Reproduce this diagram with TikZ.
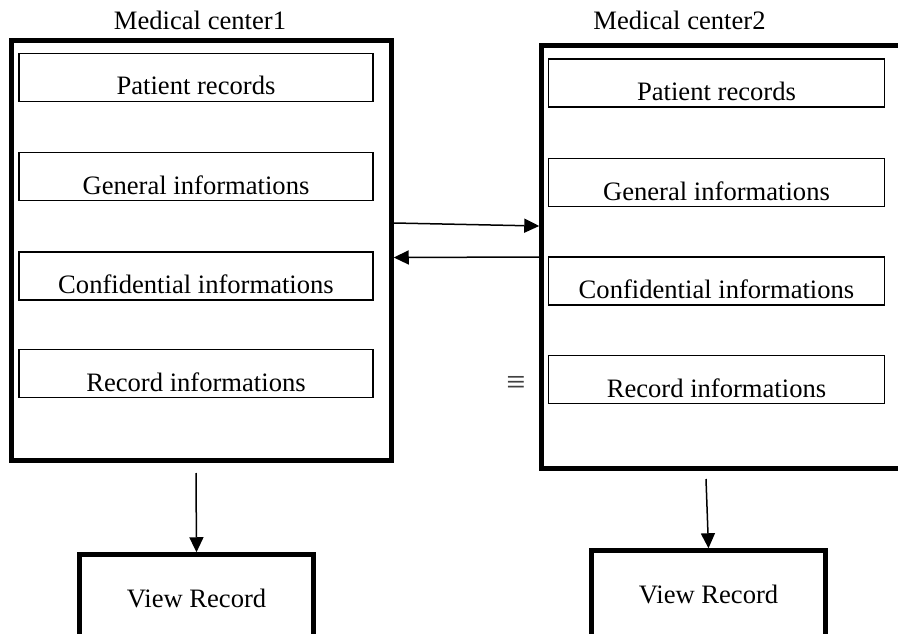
\documentclass[tikz,border=0pt]{standalone}
\usepackage{fontspec}
\setmainfont{Liberation Serif}
\usetikzlibrary{arrows.meta}
\tikzset{
  centerbox/.style={draw, line width=4.5pt, inner sep=0pt},
  fieldbox/.style={draw, line width=1.6pt, minimum height=48pt, inner sep=0pt,
                   text height=35pt, text depth=0pt},
  viewbox/.style={draw, line width=4.5pt, minimum width=234pt, minimum height=91pt,
                  inner sep=0pt, text height=15pt, text depth=0pt, anchor=north},
  caption/.style={anchor=base, inner sep=0pt},
  link/.style={line width=1.5pt, -{Triangle[length=15pt,width=14pt]}}
}
\begin{document}
\begin{tikzpicture}[x=1pt, y=-1pt, font=\fontsize{26.6pt}{30pt}\selectfont]
  \useasboundingbox (0,0) rectangle (898,634);
  \clip (0,0) rectangle (898,634);

  % titles
  \node[caption] (t1) at (200,30) {Medical center1};
  \node[caption] (t2) at (679.5,30) {Medical center2};

  % medical centre frames
  \node[centerbox, minimum width=380pt, minimum height=420pt] (mc1) at (201.5,250.5) {};
  \node[centerbox, minimum width=368.5pt, minimum height=423pt] (mc2) at (725.75,257) {};

  % fields of centre 1
  \node[fieldbox, minimum width=354pt] (p1) at (196,77.5)  {Patient records};
  \node[fieldbox, minimum width=354pt] (g1) at (196,176.5) {General informations};
  \node[fieldbox, minimum width=354pt] (c1) at (196,276)   {Confidential informations};
  \node[fieldbox, minimum width=354pt] (r1) at (196,373.5) {Record informations};

  % fields of centre 2
  \node[fieldbox, minimum width=336pt] (p2) at (716.5,83)    {Patient records};
  \node[fieldbox, minimum width=336pt] (g2) at (716.5,182.5) {General informations};
  \node[fieldbox, minimum width=336pt] (c2) at (716.5,281)   {Confidential informations};
  \node[fieldbox, minimum width=336pt] (r2) at (716.5,379.5) {Record informations};

  % stray symbol
  \node[text=black!75, inner sep=0pt, font=\fontsize{34pt}{36pt}\selectfont] (eq) at (516,385) {≡};

  % exchange between the centres
  \draw[link] ([yshift=27.5pt]mc1.east) -- ([yshift=31pt]mc2.west);
  \draw[link] (mc2.west) -- ([yshift=-7pt]mc1.east);

  % view record boxes
  \node[viewbox] (vr1) at (196.5,552.25) {View Record};
  \node[viewbox] (vr2) at (708.5,548.25) {View Record};

  \coordinate (d1) at (196,473);
  \coordinate (d2) at (706,479);
  \draw[link] (d1) -- (vr1.north);
  \draw[link] (d2) -- (vr2.north);
\end{tikzpicture}
\end{document}
